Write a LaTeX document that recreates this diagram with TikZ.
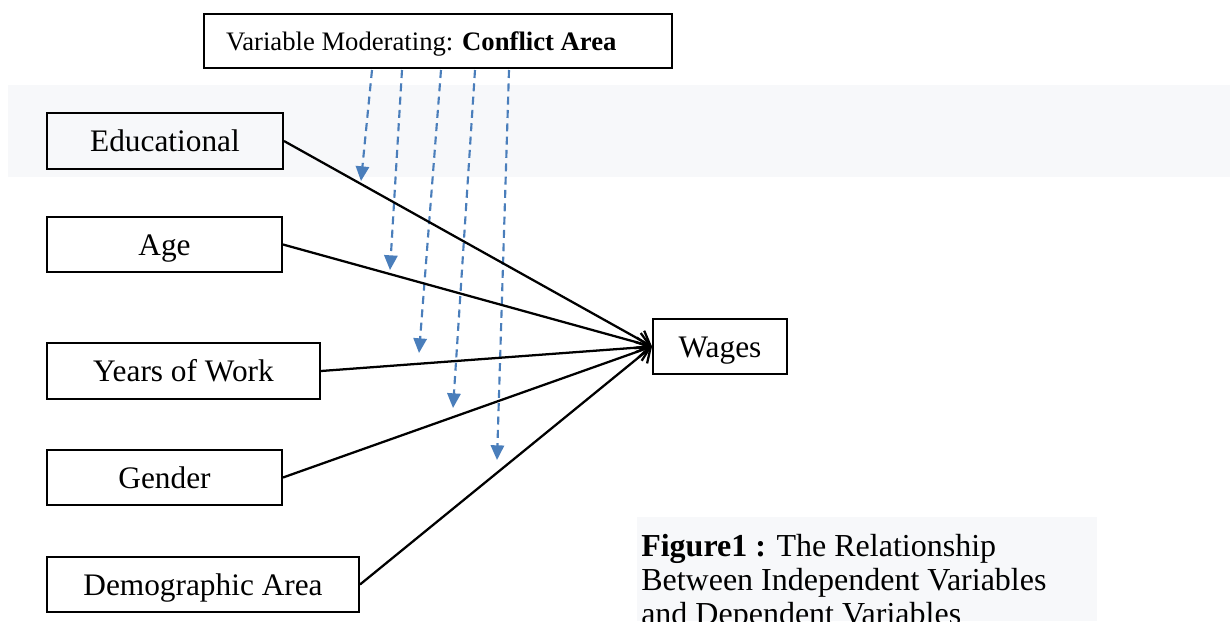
\documentclass[tikz,border=0pt]{standalone}
\usepackage{fontspec}
\setmainfont{Liberation Serif}
\usetikzlibrary{arrows.meta}
\definecolor{bandgray}{RGB}{247,248,250}
\definecolor{modblue}{RGB}{74,126,187}

\begin{document}
\begin{tikzpicture}[x=0.75pt,y=0.75pt,yscale=-1,xscale=1,
  box/.style={draw,line width=1.5,inner sep=0pt,text height=16pt,text depth=0pt,font=\fontsize{23.5}{28}\selectfont},
  link/.style={line width=1.7,-{Straight Barb[length=9.5pt,width=15pt]}},
  moderate/.style={modblue,line width=1.6,dash pattern=on 6pt off 4pt,-{Triangle[length=11pt,width=10pt]}}]
\useasboundingbox (0,0) rectangle (1230,621);

%Shape: Rectangle [id:band]
\fill [bandgray] (8,85) rectangle (1230,177);
%Shape: Rectangle [id:captionback]
\fill [bandgray] (637,517) rectangle (1097,621);

% Text Node
\draw (438,41) node [box, minimum width=351pt, minimum height=40.5pt, align=flush left, text width=318pt, text height=13.5pt, font=\fontsize{20}{24}\selectfont] (mod) {Variable Moderating: \textbf{Conflict Area}};
% Text Node
\draw (165,141) node [box, minimum width=177pt, minimum height=42pt] (edu) {Educational};
% Text Node
\draw (164.5,244.5) node [box, minimum width=176.25pt, minimum height=41.25pt] (age) {Age};
% Text Node
\draw (183.5,371) node [box, minimum width=204.75pt, minimum height=42pt] (years) {Years of Work};
% Text Node
\draw (164.5,477.5) node [box, minimum width=176.25pt, minimum height=41.25pt] (gender) {Gender};
% Text Node
\draw (203,584.5) node [box, minimum width=234pt, minimum height=41.25pt] (demo) {Demographic Area};
% Text Node
\draw (720,346.5) node [box, minimum width=100.5pt, minimum height=41.25pt] (wages) {Wages};

% Text Node
\draw (641,534) node [anchor=north west, inner sep=0pt, align=flush left, font=\fontsize{24}{25.5}\selectfont] (caption) {\textbf{Figure1 :} The Relationship\\Between Independent Variables\\and Dependent Variables};

%Straight Lines [id:moderating]
\coordinate (s1) at (372,70);
\coordinate (s2) at (402,70);
\coordinate (s3) at (441,70);
\coordinate (s4) at (475,70);
\coordinate (s5) at (509,70);
\coordinate (e1) at (361,181);
\coordinate (e2) at (390,270);
\coordinate (e3) at (419,353);
\coordinate (e4) at (453,408);
\coordinate (e5) at (497,460);
\draw [moderate] (s1) -- (e1);
\draw [moderate] (s2) -- (e2);
\draw [moderate] (s3) -- (e3);
\draw [moderate] (s4) -- (e4);
\draw [moderate] (s5) -- (e5);

%Straight Lines [id:links]
\draw [link] (edu.east) -- (wages.west);
\draw [link] (age.east) -- (wages.west);
\draw [link] (years.east) -- (wages.west);
\draw [link] (gender.east) -- (wages.west);
\draw [link] (demo.east) -- (wages.west);

\end{tikzpicture}
\end{document}
